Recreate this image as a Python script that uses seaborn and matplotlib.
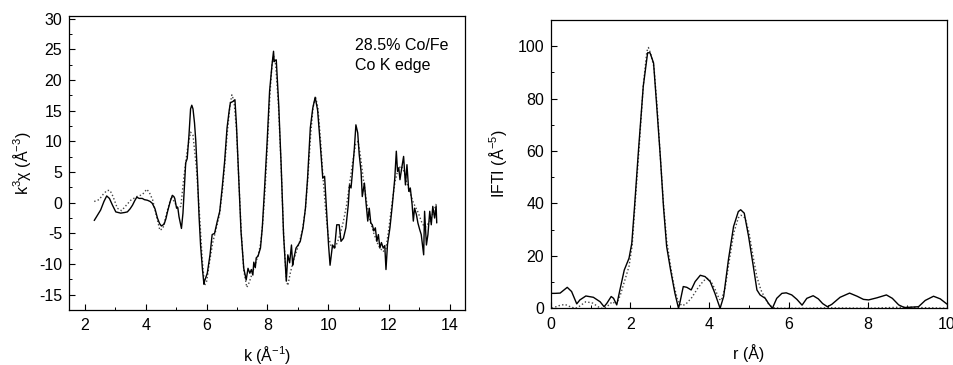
import matplotlib
matplotlib.use("Agg")
import matplotlib.pyplot as plt
import seaborn as sns
import pandas as pd
from matplotlib.ticker import MultipleLocator

# ---------------- data: left panel (k-space) ----------------
k_exp = [2.30, 2.40, 2.51, 2.62, 2.71, 2.80, 2.90, 3.01, 3.17, 3.30, 3.39, 3.48, 3.56, 3.63, 3.70,
         3.78, 3.88, 3.95, 4.05, 4.14, 4.21, 4.30, 4.38, 4.45, 4.51, 4.60, 4.66, 4.71, 4.80, 4.87,
         4.92, 4.95, 5.01, 5.05, 5.09, 5.17, 5.22, 5.27, 5.31, 5.36, 5.42, 5.47, 5.51, 5.55, 5.60,
         5.64, 5.70, 5.75, 5.80, 5.86, 5.91, 5.93, 6.02, 6.11, 6.18, 6.26, 6.35, 6.43, 6.51, 6.59,
         6.67, 6.74, 6.78, 6.86, 6.93, 6.98, 7.06, 7.13, 7.22, 7.30, 7.36, 7.42, 7.47, 7.52, 7.55,
         7.60, 7.63, 7.69, 7.77, 7.83, 7.90, 7.99, 8.07, 8.15, 8.20, 8.22, 8.25, 8.29, 8.37, 8.45,
         8.53, 8.62, 8.67, 8.73, 8.79, 8.83, 8.86, 8.94, 9.01, 9.08, 9.17, 9.25, 9.32, 9.41, 9.49,
         9.57, 9.65, 9.73, 9.82, 9.88, 9.95, 10.01, 10.06, 10.14, 10.21, 10.28, 10.36, 10.42, 10.50,
         10.58, 10.66, 10.70, 10.75, 10.79, 10.86, 10.91, 10.97, 11.02, 11.08, 11.12, 11.19, 11.24,
         11.30, 11.35, 11.40, 11.45, 11.50, 11.55, 11.60, 11.65, 11.70, 11.75, 11.81, 11.86, 11.90,
         11.95, 12.03, 12.11, 12.19, 12.24, 12.28, 12.32, 12.36, 12.41, 12.48, 12.54, 12.59, 12.65,
         12.70, 12.76, 12.80, 12.84, 12.90, 12.95, 13.01, 13.06, 13.14, 13.17, 13.23, 13.28, 13.34,
         13.39, 13.44, 13.50, 13.55, 13.57]
chi_exp = [-2.9, -2.1, -1.2, 0.2, 1.1, 0.7, -0.4, -1.5, -1.7, -1.6, -1.5, -1.0, -0.4, 0.3, 0.9,
           0.7, 0.7, 0.5, 0.4, 0.2, -0.1, -1.0, -2.5, -3.4, -3.8, -3.5, -2.6, -1.5, 0.2, 1.2,
           1.0, 0.7, -0.9, -0.8, -2.3, -4.2, -1.7, 3.0, 6.5, 7.2, 11.2, 15.3, 15.9, 15.3, 13.0,
           10.2, 4.0, -2.3, -7.0, -10.8, -13.3, -12.8, -11.5, -8.5, -5.2, -5.0, -3.0, -1.4, 2.4, 6.7,
           12.2, 15.0, 16.3, 16.5, 16.8, 12.7, 3.5, -4.7, -10.7, -12.6, -10.7, -11.5, -10.9, -11.8, -9.7,
           -10.6, -9.0, -8.7, -7.4, -4.1, 1.9, 10.0, 18.2, 22.5, 24.7, 23.0, 23.2, 23.3, 16.0, 6.2,
           -5.2, -12.8, -8.5, -9.8, -6.9, -10.2, -9.3, -7.4, -6.9, -6.3, -4.1, -0.9, 4.0, 12.2, 15.4,
           17.2, 15.1, 10.0, 4.0, 4.3, -1.9, -6.9, -10.2, -6.9, -7.4, -3.6, -3.6, -6.3, -5.8,
           -4.1, -0.3, 2.9, 2.4, 4.6, 8.9, 12.7, 11.4, 7.8, 5.1, 1.0, 3.2, 0.2,
           -3.0, -0.9, -3.3, -3.6, -4.6, -4.1, -6.3, -5.2, -7.4, -6.5, -7.4, -7.0, -10.9,
           -6.8, -4.1, -0.3, 4.0, 8.4, 5.1, 5.7, 3.75, 5.4, 7.55, 2.9, 6.2, 1.85,
           2.4, -0.3, -3.0, -0.9, -1.9, -3.3, -4.4, -5.2, -8.5, -1.4, -6.9, -5.2, -1.4,
           -3.6, -0.6, -2.5, -0.5, -3.3]

k_fit = [2.30, 2.46, 2.60, 2.72, 2.82, 2.92, 3.06, 3.20, 3.34, 3.50, 3.70, 3.88, 4.03, 4.12, 4.22,
         4.33, 4.46, 4.56, 4.71, 4.84, 4.96, 5.05, 5.15, 5.25, 5.36, 5.47, 5.55, 5.66, 5.77, 5.85,
         5.93, 6.00, 6.10, 6.20, 6.30, 6.42, 6.52, 6.60, 6.68, 6.77, 6.83, 6.90, 6.98, 7.06, 7.14,
         7.22, 7.32, 7.40, 7.50, 7.60, 7.70, 7.78, 7.85, 7.92, 8.00, 8.08, 8.15, 8.20, 8.27, 8.36,
         8.45, 8.53, 8.62, 8.67, 8.75, 8.85, 8.95, 9.05, 9.15, 9.25, 9.33, 9.42, 9.50, 9.58, 9.66,
         9.75, 9.83, 9.92, 10.00, 10.10, 10.20, 10.30, 10.40, 10.50, 10.60, 10.70, 10.80, 10.90,
         10.98, 11.05, 11.15, 11.25, 11.35, 11.50, 11.65, 11.80, 11.90, 12.00, 12.10, 12.20, 12.30,
         12.40, 12.50, 12.60, 12.70, 12.80, 12.95, 13.10, 13.20, 13.35, 13.50, 13.55]
chi_fit = [0.2, 0.5, 1.4, 2.0, 2.0, 1.0, -0.9, -1.3, -0.5, 0.4, 1.0, 1.3, 2.2, 1.6, 0.5,
           -1.8, -4.5, -4.2, -1.2, 1.0, -0.1, -0.8, -0.6, 4.2, 8.5, 11.5, 11.0, 5.8, -2.3, -9.0,
           -13.5, -12.8, -9.5, -6.5, -4.5, -2.0, 2.0, 6.5, 11.5, 16.0, 17.6, 16.5, 12.0, 3.5, -5.0,
           -11.0, -13.8, -13.0, -11.5, -10.0, -8.5, -6.5, -3.0, 2.0, 9.5, 17.5, 22.5, 24.0, 22.5, 16.0,
           6.0, -5.0, -12.5, -13.5, -11.5, -9.5, -8.0, -6.5, -4.5, -1.0, 4.0, 11.0, 15.5, 17.3, 15.5,
           10.0, 4.0, -1.5, -5.5, -7.2, -7.5, -6.5, -5.0, -3.0, -0.5, 3.0, 6.5, 9.5,
           10.0, 8.0, 4.0, 0.5, -2.5, -5.0, -7.0, -8.0, -7.5, -4.0, 0.0, 3.5, 5.5,
           6.0, 5.0, 3.0, 1.5, 0.0, -1.5, -3.5, -4.0, -3.0, -1.0, -0.2]

# ---------------- data: right panel (r-space) ----------------
r_exp = [0.02, 0.10, 0.23, 0.41, 0.52, 0.65, 0.73, 0.88, 1.07, 1.24, 1.34, 1.41, 1.52, 1.58, 1.66,
         1.74, 1.85, 1.97, 2.04, 2.11, 2.21, 2.33, 2.44, 2.50, 2.59, 2.67, 2.76, 2.84, 2.92, 3.02,
         3.13, 3.22, 3.26, 3.34, 3.43, 3.54, 3.64, 3.77, 3.89, 4.02, 4.14, 4.27, 4.36, 4.48, 4.61,
         4.73, 4.79, 4.88, 4.99, 5.11, 5.20, 5.28, 5.41, 5.49, 5.59, 5.70, 5.83, 5.94, 6.08, 6.21,
         6.34, 6.46, 6.62, 6.75, 6.86, 6.98, 7.09, 7.30, 7.54, 7.73, 7.89, 8.02, 8.23, 8.47, 8.62,
         8.78, 8.92, 9.07, 9.28, 9.45, 9.66, 9.83, 10.0]
ft_exp = [5.7, 5.7, 5.8, 8.0, 6.4, 1.7, 3.2, 4.7, 4.2, 2.5, 0.6, 1.9, 4.5, 3.8, 1.3,
          7.0, 14.6, 19.1, 24.8, 38.9, 60.5, 84.7, 97.5, 97.5, 93.6, 77.1, 58.0, 38.9, 23.6, 14.6,
          5.7, 0.0, 2.5, 8.3, 8.0, 7.0, 10.2, 12.6, 12.1, 10.2, 5.7, 0.0, 4.5, 18.5, 31.2,
          36.9, 37.6, 36.3, 27.4, 15.9, 7.0, 5.1, 3.8, 1.9, 0.0, 3.8, 5.7, 5.9, 5.1, 3.4,
          1.2, 3.8, 4.8, 3.6, 1.8, 0.6, 1.5, 4.2, 5.8, 4.6, 3.4, 3.2, 4.0, 5.1, 3.8,
          1.3, 0.3, 0.4, 0.6, 3.0, 4.6, 3.6, 1.6]

r_fit = [0.02, 0.20, 0.35, 0.50, 0.62, 0.72, 0.88, 1.05, 1.20, 1.30, 1.40, 1.55, 1.65, 1.75,
         1.85, 1.97, 2.05, 2.12, 2.22, 2.33, 2.42, 2.46, 2.52, 2.60, 2.68, 2.76, 2.84, 2.92, 3.02,
         3.10, 3.20, 3.30, 3.40, 3.55, 3.70, 3.85, 3.97, 4.05, 4.15, 4.25, 4.30, 4.40, 4.50, 4.62,
         4.73, 4.80, 4.90, 5.00, 5.10, 5.20, 5.30, 5.40, 5.50, 5.60, 5.80, 6.50, 7.00, 8.00, 9.00,
         9.30, 10.0]
ft_fit = [0.0, 1.0, 1.5, 0.5, 0.0, 0.8, 2.5, 2.0, 0.5, 0.0, 0.5, 2.5, 1.5, 5.0,
          10.0, 16.0, 24.0, 39.0, 60.0, 85.0, 98.0, 99.5, 97.0, 92.0, 77.0, 58.0, 40.0, 26.0, 16.0,
          9.0, 3.0, 1.0, 1.5, 4.0, 7.5, 10.5, 11.5, 10.0, 7.0, 3.5, 3.0, 8.0, 18.0, 29.0,
          34.5, 35.5, 34.5, 29.0, 20.0, 12.0, 7.0, 4.0, 1.5, 0.3, 0.0, 0.0, 0.2, 0.0, 0.5,
          0.3, 0.0]

left_xticks = [2, 4, 6, 8, 10, 12, 14]
left_yticks = [-15, -10, -5, 0, 5, 10, 15, 20, 25, 30]
right_xticks = [0, 2, 4, 6, 8, 10]
right_yticks = [0, 20, 40, 60, 80, 100]
annotation = ["28.5% Co/Fe", "Co K edge"]

# ---------------- style ----------------
sns.set_theme(style="ticks")
plt.rcParams['font.family'] = ['Liberation Sans', 'DejaVu Sans']
plt.rcParams['mathtext.default'] = 'regular'
plt.rcParams['axes.unicode_minus'] = False
plt.rcParams['text.color'] = 'black'
plt.rcParams['axes.labelcolor'] = 'black'
plt.rcParams['xtick.color'] = 'black'
plt.rcParams['ytick.color'] = 'black'

W, H = 954, 365
fig = plt.figure(figsize=(W / 100, H / 100), dpi=100)
ax1 = fig.add_axes([69 / W, 55 / H, 396 / W, 294.3 / H])
ax2 = fig.add_axes([551 / W, 56.7 / H, 396 / W, 288.3 / H])

df_exp = pd.DataFrame({"k": k_exp, "chi": chi_exp})
df_fit = pd.DataFrame({"k": k_fit, "chi": chi_fit})
sns.lineplot(data=df_fit, x="k", y="chi", ax=ax1, sort=False, estimator=None,
             color="#444444", lw=1.0, linestyle=(0, (1, 1.6)))
sns.lineplot(data=df_exp, x="k", y="chi", ax=ax1, sort=False, estimator=None,
             color="black", lw=1.0)

df_rexp = pd.DataFrame({"r": r_exp, "ft": ft_exp})
df_rfit = pd.DataFrame({"r": r_fit, "ft": ft_fit})
sns.lineplot(data=df_rfit, x="r", y="ft", ax=ax2, sort=False, estimator=None,
             color="#444444", lw=1.0, linestyle=(0, (1, 1.6)))
sns.lineplot(data=df_rexp, x="r", y="ft", ax=ax2, sort=False, estimator=None,
             color="black", lw=1.0)

ax1.set_xlim(1.47, 14.5)
ax1.set_ylim(-17.5, 30.5)
ax1.set_xticks(left_xticks)
ax1.set_yticks(left_yticks)
ax1.xaxis.set_minor_locator(MultipleLocator(1))
ax1.yaxis.set_minor_locator(MultipleLocator(2.5))
ax1.set_xlabel("k (Å$^{-1}$)", fontsize=11.5, labelpad=7.5)
ax1.set_ylabel("k$^{3}$χ (Å$^{-3}$)", fontsize=11.5, labelpad=4)

ax2.set_xlim(0, 10)
ax2.set_ylim(0, 110)
ax2.set_xticks(right_xticks)
ax2.set_yticks(right_yticks)
ax2.xaxis.set_minor_locator(MultipleLocator(1))
ax2.yaxis.set_minor_locator(MultipleLocator(10))
ax2.set_xlabel("r (Å)", fontsize=11.5, labelpad=9)
ax2.set_ylabel("IFTI (Å$^{-5}$)", fontsize=11.5, labelpad=6)

for ax in (ax1, ax2):
    for s in ax.spines.values():
        s.set_visible(True)
        s.set_color("black")
        s.set_linewidth(0.9)
    ax.tick_params(which="major", direction="in", length=4, width=0.8,
                   labelsize=11.5, colors="black", pad=5)
    ax.tick_params(which="minor", direction="in", length=2.5, width=0.7, colors="black")
    ax.tick_params(axis="x", which="major", pad=6)
    ax.tick_params(top=False, right=False, which="both")

ax1.text(10.88, 24.9, annotation[0], fontsize=11.5, ha="left", va="baseline", color="black")
ax1.text(10.88, 21.6, annotation[1], fontsize=11.5, ha="left", va="baseline", color="black")

fig.savefig("out.png", dpi=100)
